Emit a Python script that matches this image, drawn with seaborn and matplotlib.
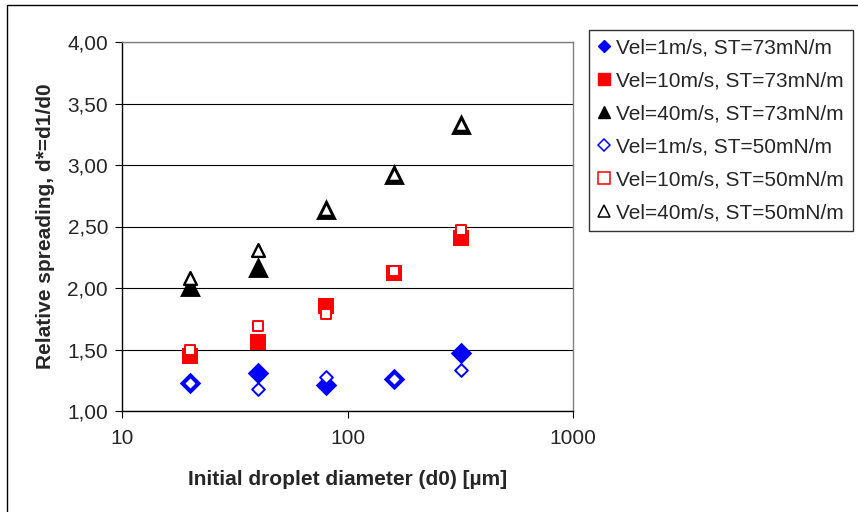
import matplotlib
matplotlib.use("Agg")
import matplotlib.pyplot as plt
import matplotlib.ticker as mticker
from matplotlib.patches import Rectangle
from matplotlib.lines import Line2D
import seaborn as sns
import pandas as pd

# droplet diameters [um]
d0 = [20, 40, 80, 160, 320]

labels = ["Vel=1m/s, ST=73mN/m", "Vel=10m/s, ST=73mN/m", "Vel=40m/s, ST=73mN/m",
          "Vel=1m/s, ST=50mN/m", "Vel=10m/s, ST=50mN/m", "Vel=40m/s, ST=50mN/m"]

v1_st73 = [1.23, 1.31, 1.21, 1.26, 1.47]
v10_st73 = [1.45, 1.56, 1.85, 2.12, 2.41]
v40_st73 = [2.02, 2.17, 2.645, 2.93, 3.33]
v1_st50 = [1.23, 1.18, 1.28, 1.26, 1.33]
v10_st50 = [1.50, 1.69, 1.79, 2.14, 2.47]
v40_st50 = [2.08, 2.31, 2.645, 2.93, 3.33]

series = [v1_st73, v10_st73, v40_st73, v1_st50, v10_st50, v40_st50]

sns.set_style("white")
plt.rcParams['font.family'] = ['Liberation Sans', 'DejaVu Sans']
FS = 15

fig = plt.figure(figsize=(8.58, 5.12), dpi=100)
ax = fig.add_axes([122/858, 1-411/512, (573-122)/858, (411-42)/512])

# marker, color, filled, size, edge width
styles = [("D", "#0000ff", True, 120, 0),
          ("s", "#ff0000", True, 130, 0),
          ("^", "#000000", True, 225, 0),
          ("D", "#0000ff", False, 42, 1.4),
          ("s", "#ff0000", False, 62, 1.4),
          ("^", "#000000", False, 85, 1.7)]

handles = []
for lab, vals, (m, c, filled, s, lw) in zip(labels, series, styles):
    df = pd.DataFrame({"d0": d0, "d": vals})
    ms = 6.5 if m == "D" else 8
    if filled:
        sns.scatterplot(data=df, x="d0", y="d", marker=m, s=s, color=c,
                        edgecolor=c, linewidth=0, ax=ax, zorder=3)
        handles.append(Line2D([], [], ls="", marker=m, color=c, markersize=ms))
    else:
        sns.scatterplot(data=df, x="d0", y="d", marker=m, s=s, facecolor="white",
                        edgecolor=c, linewidth=lw, ax=ax, zorder=4)
        handles.append(Line2D([], [], ls="", marker=m, markerfacecolor="white",
                              markeredgecolor=c, markeredgewidth=1.1, markersize=ms))

ax.set_xscale("log")
ax.set_xlim(10, 1000)
ax.set_ylim(1.0, 4.0)
ax.set_yticks([1.0, 1.5, 2.0, 2.5, 3.0, 3.5, 4.0])
ax.xaxis.set_major_locator(mticker.FixedLocator([10, 100, 1000]))
ax.xaxis.set_minor_locator(mticker.NullLocator())
ax.xaxis.set_major_formatter(mticker.FuncFormatter(lambda v, p: f"{v:.0f}"))
ax.yaxis.set_major_formatter(mticker.FuncFormatter(lambda v, p: f"{v:.2f}".replace(".", ",")))
ax.grid(axis="y", color="black", linewidth=0.8)
ax.set_axisbelow(True)
ax.tick_params(axis="both", direction="out", length=5, width=0.8, color="black",
               labelsize=FS, left=True, bottom=True)
ax.tick_params(axis="y", pad=5)
ax.tick_params(axis="x", pad=8)
for sp in ["left", "bottom"]:
    ax.spines[sp].set_color("black")
    ax.spines[sp].set_linewidth(1.0)
for sp in ["top", "right"]:
    ax.spines[sp].set_color("#808080")
    ax.spines[sp].set_linewidth(1.0)

ax.set_xlabel("Initial droplet diameter (d0) [µm]", fontsize=FS, fontweight="bold", labelpad=16)
ax.set_ylabel("Relative spreading, d*=d1/d0", fontsize=FS, fontweight="bold", labelpad=9)

leg = fig.legend(handles, labels, loc="upper left", bbox_to_anchor=(589/858, 1-30/512),
                 fontsize=FS, frameon=True, fancybox=False, edgecolor="black",
                 handlelength=0.6, handletextpad=0.3, labelspacing=0.67,
                 borderpad=0.42, borderaxespad=0)
leg.get_frame().set_linewidth(1.0)

# outer chart border
fig.patches.append(Rectangle((7/858, -0.1), 1.2, 1-5/512+0.1, transform=fig.transFigure,
                             fill=False, edgecolor="black", linewidth=1.0))

fig.savefig("out.png", dpi=100)
